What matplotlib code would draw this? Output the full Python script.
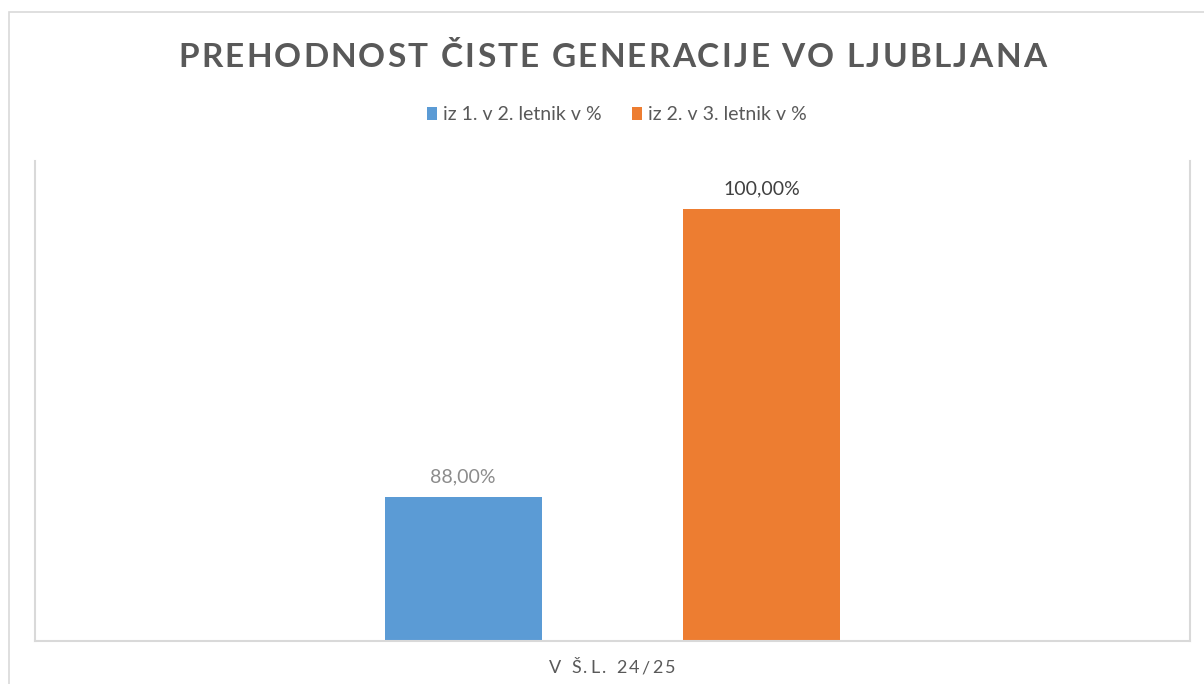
import matplotlib
matplotlib.use("Agg")
import matplotlib.pyplot as plt
from matplotlib.font_manager import FontProperties
from matplotlib.patches import Rectangle, Patch

# podatki
title = "PREHODNOST ČISTE GENERACIJE VO LJUBLJANA"
category = "V Š.L. 24/25"
series = ["iz 1. v 2. letnik v %", "iz 2. v 3. letnik v %"]
values = [88.0, 100.0]
colors = ["#5B9BD5", "#ED7D31"]
label_colors = ["#8C8C8C", "#404040"]

W, H = 1204, 684
FONT = "Lato"


def spaced_text(fig, renderer, s, xc, yb, gap, prop, color):
    # matplotlib nima razmika med črkami, zato vsako črko postavimo posebej
    def width(t):
        if not t:
            return 0.0
        return renderer.get_text_width_height_descent(t, prop, ismath=False)[0]
    total = width(s) + gap * (len(s) - 1)
    x0 = xc - total / 2
    for i, ch in enumerate(s):
        x = x0 + width(s[:i]) + gap * i
        fig.text(x / W, 1 - yb / H, ch, fontproperties=prop, color=color,
                 ha="left", va="baseline")


fig = plt.figure(figsize=(W / 100, H / 100), dpi=100)
renderer = fig.canvas.get_renderer()

# okvir grafa
fig.patches.append(Rectangle((9 / W, -0.05), 1.2, 1 - 12 / H + 0.05,
                             transform=fig.transFigure, fill=False,
                             edgecolor="#D9D9D9", linewidth=1.2))

ax = fig.add_axes([35 / W, 1 - 641 / H, (1190 - 35) / W, (641 - 161) / H])
offsets = [-0.1294, 0.1294]
bw = 0.136
for i, v in enumerate(values):
    ax.bar(offsets[i], v, width=bw, color=colors[i], label=series[i])
    ax.annotate(f"{v:.2f}%".replace(".", ","), (offsets[i], v),
                xytext=(0, 10.8), textcoords="offset points",
                ha="center", va="baseline", fontsize=14, family=FONT,
                color=label_colors[i])

ax.set_xlim(-0.5, 0.5)
ax.set_ylim(82, 102)
ax.set_xticks([])
ax.set_yticks([])
ax.spines["top"].set_visible(False)
for sp in ["left", "right", "bottom"]:
    ax.spines[sp].set_color("#D9D9D9")
    ax.spines[sp].set_linewidth(1.5)

# legenda
handles = [Patch(facecolor=c, edgecolor="none") for c in colors]
fig.legend(handles, series, loc="center", ncol=2,
           bbox_to_anchor=(617 / W, 1 - 115 / H), frameon=False,
           prop=FontProperties(family=FONT, size=14),
           labelcolor="#595959", handlelength=0.5, handleheight=0.6,
           handletextpad=0.3, columnspacing=1.6)

# naslov
tprop = FontProperties(family=FONT, size=24, weight="bold")
spaced_text(fig, renderer, title, 612, 67, 2.2, tprop, "#595959")

# kategorija
cx = ax.transData.transform((0, 0))[0]
cprop = FontProperties(family=FONT, size=13)
spaced_text(fig, renderer, category, cx, 673, 2.5, cprop, "#595959")

fig.savefig("out.png", dpi=100, facecolor="white")
